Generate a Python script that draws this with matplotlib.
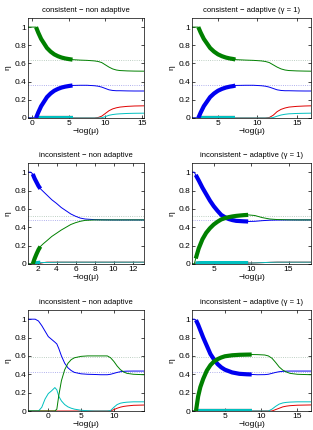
import numpy as np
import matplotlib
matplotlib.use('Agg')
import matplotlib.pyplot as plt
from matplotlib.ticker import FuncFormatter

plt.rcParams['font.family'] = ['Liberation Sans', 'DejaVu Sans']
plt.rcParams['font.size'] = 5.5

# consistent - non adaptive
x1 = [-0.6, 0.0, 0.5, 0.8, 1.2, 1.6, 2.0, 2.5, 3.0, 3.5, 4.0, 4.5, 5.0, 5.5,
      6.5, 7.5, 8.5, 9.0, 9.5, 10.0, 10.5, 11.0, 11.5, 12.0, 13.0, 14.0, 15.3]
g1 = [1.0, 1.0, 1.0, 0.94, 0.87, 0.82, 0.77, 0.73, 0.70, 0.68, 0.665, 0.655, 0.648, 0.642,
      0.637, 0.634, 0.628, 0.622, 0.61, 0.585, 0.56, 0.54, 0.528, 0.522, 0.518, 0.516, 0.515]
b1 = [0, 0, 0, 0.06, 0.13, 0.18, 0.23, 0.27, 0.30, 0.32, 0.335, 0.345, 0.352, 0.358,
      0.36, 0.36, 0.355, 0.35, 0.34, 0.325, 0.31, 0.303, 0.30, 0.30, 0.298, 0.297, 0.297]
r1 = [0, 0, 0, 0, 0, 0, 0, 0, 0, 0, 0, 0, 0, 0,
      0, 0, 0, 0.005, 0.02, 0.05, 0.08, 0.10, 0.112, 0.12, 0.128, 0.132, 0.134]
c1 = [0, 0, 0, 0, 0, 0, 0, 0, 0, 0, 0, 0, 0, 0,
      0, 0, 0, 0, 0.003, 0.015, 0.03, 0.038, 0.043, 0.046, 0.05, 0.052, 0.053]

# consistent - adaptive
x2 = [1.7, 2.2, 2.5, 2.8, 3.2, 3.6, 4.0, 4.5, 5.0, 5.5, 6.0, 6.5, 7.0, 7.2,
      8.5, 9.5, 10.5, 11.0, 11.5, 12.0, 12.5, 13.0, 13.5, 14.0, 15.0, 16.0, 16.8]
g2 = [1.0, 1.0, 1.0, 0.94, 0.87, 0.82, 0.77, 0.73, 0.70, 0.68, 0.665, 0.655, 0.648, 0.642,
      0.637, 0.634, 0.628, 0.622, 0.61, 0.585, 0.56, 0.54, 0.528, 0.522, 0.518, 0.516, 0.515]
b2 = [0, 0, 0, 0.06, 0.13, 0.18, 0.23, 0.27, 0.30, 0.32, 0.335, 0.345, 0.352, 0.358,
      0.36, 0.36, 0.355, 0.35, 0.34, 0.325, 0.31, 0.303, 0.30, 0.30, 0.298, 0.297, 0.297]
r2 = [0, 0, 0, 0, 0, 0, 0, 0, 0, 0, 0, 0, 0, 0,
      0, 0, 0, 0, 0.005, 0.03, 0.07, 0.095, 0.11, 0.12, 0.128, 0.132, 0.134]
c2 = [0, 0, 0, 0, 0, 0, 0, 0, 0, 0, 0, 0, 0, 0,
      0, 0, 0, 0, 0, 0.005, 0.02, 0.033, 0.041, 0.046, 0.05, 0.052, 0.053]

# inconsistent - non adaptive (middle)
x3 = [1.0, 1.3, 1.5, 1.7, 1.9, 2.1, 2.3, 2.6, 3.0, 3.5, 4.0, 4.5, 5.0, 5.5,
      6.0, 6.5, 7.0, 8.0, 9.0, 10.0, 11.0, 12.0, 13.2]
b3 = [1.0, 1.0, 0.98, 0.93, 0.89, 0.85, 0.82, 0.79, 0.75, 0.70, 0.66, 0.615, 0.58, 0.545,
      0.52, 0.50, 0.49, 0.483, 0.481, 0.48, 0.48, 0.48, 0.48]
g3 = [0, 0, 0, 0.06, 0.11, 0.155, 0.19, 0.22, 0.255, 0.30, 0.335, 0.37, 0.40, 0.43,
      0.45, 0.465, 0.475, 0.48, 0.48, 0.48, 0.48, 0.48, 0.48]
r3 = [0, 0, 0, 0, 0, 0.003, 0.008, 0.015, 0.02, 0.02, 0.02, 0.02, 0.02, 0.02,
      0.02, 0.02, 0.02, 0.02, 0.02, 0.02, 0.02, 0.02, 0.02]
c3 = [0, 0, 0.003, 0.006, 0.009, 0.012, 0.014, 0.016, 0.017, 0.018, 0.019, 0.02, 0.02, 0.02,
      0.02, 0.02, 0.02, 0.02, 0.02, 0.02, 0.02, 0.02, 0.02]

# inconsistent - adaptive (middle)
x4 = [2.1, 2.4, 2.6, 3.0, 3.5, 4.0, 4.5, 5.0, 5.5, 6.0, 6.5, 7.0, 7.5, 8.0,
      9.0, 9.6, 10.5, 11.5, 12.5, 13.5, 15.0, 16.5, 18.0]
b4 = [1.0, 1.0, 0.97, 0.91, 0.83, 0.76, 0.69, 0.63, 0.58, 0.535, 0.51, 0.49, 0.478, 0.47,
      0.465, 0.463, 0.465, 0.472, 0.477, 0.479, 0.48, 0.48, 0.48]
g4 = [0, 0, 0.06, 0.17, 0.27, 0.34, 0.39, 0.43, 0.46, 0.485, 0.50, 0.51, 0.518, 0.524,
      0.532, 0.535, 0.528, 0.505, 0.49, 0.484, 0.481, 0.48, 0.48]
r4 = [0, 0, 0, 0.005, 0.008, 0.01, 0.01, 0.01, 0.01, 0.01, 0.01, 0.01, 0.01, 0.01,
      0.01, 0.01, 0.012, 0.015, 0.018, 0.02, 0.02, 0.02, 0.02]
c4 = [0, 0, 0.005, 0.008, 0.01, 0.01, 0.01, 0.01, 0.01, 0.01, 0.01, 0.01, 0.01, 0.01,
      0.01, 0.01, 0.012, 0.015, 0.018, 0.02, 0.02, 0.02, 0.02]

# inconsistent - non adaptive (bottom)
x5 = [-3.1, -2.5, -2.0, -1.5, -1.0, -0.5, 0.0, 0.5, 1.0, 1.3, 1.6, 2.0, 2.5, 3.0, 3.5,
      4.0, 5.0, 6.0, 7.0, 8.0, 9.0, 9.5, 10.0, 10.5, 11.0, 11.5, 12.0, 13.0, 14.6]
b5 = [1.0, 1.0, 1.0, 0.98, 0.93, 0.87, 0.81, 0.78, 0.75, 0.73, 0.68, 0.60, 0.52, 0.47, 0.44,
      0.42, 0.405, 0.40, 0.398, 0.395, 0.395, 0.40, 0.41, 0.42, 0.428, 0.432, 0.434, 0.435, 0.435]
g5 = [0, 0, 0, 0, 0, 0, 0, 0, 0, 0.02, 0.17, 0.33, 0.45, 0.52, 0.56,
      0.58, 0.595, 0.60, 0.60, 0.60, 0.60, 0.58, 0.54, 0.49, 0.45, 0.425, 0.41, 0.40, 0.395]
c5 = [0, 0, 0, 0, 0.04, 0.13, 0.19, 0.22, 0.255, 0.23, 0.16, 0.11, 0.07, 0.045, 0.03,
      0.02, 0.008, 0.003, 0, 0, 0, 0.005, 0.04, 0.07, 0.085, 0.092, 0.096, 0.10, 0.10]
r5 = [0, 0, 0, 0, 0, 0, 0, 0, 0, 0, 0, 0, 0, 0, 0,
      0, 0, 0, 0, 0, 0, 0, 0.015, 0.03, 0.042, 0.05, 0.055, 0.062, 0.065]

# inconsistent - adaptive (bottom)
x6 = [0.45, 0.8, 1.0, 1.3, 1.6, 2.0, 2.5, 3.0, 3.5, 4.0, 4.5, 5.0, 6.0, 7.0,
      8.0, 8.7, 9.5, 10.5, 11.0, 11.5, 12.0, 12.5, 13.0, 13.5, 14.0, 15.0, 16.9]
b6 = [1.0, 1.0, 0.99, 0.94, 0.88, 0.80, 0.71, 0.62, 0.56, 0.51, 0.475, 0.45, 0.42, 0.405,
      0.40, 0.398, 0.395, 0.396, 0.40, 0.41, 0.42, 0.428, 0.432, 0.434, 0.435, 0.435, 0.435]
g6 = [0, 0, 0, 0.16, 0.26, 0.35, 0.44, 0.50, 0.54, 0.565, 0.583, 0.596, 0.607, 0.612,
      0.614, 0.615, 0.614, 0.61, 0.60, 0.575, 0.53, 0.48, 0.445, 0.425, 0.41, 0.40, 0.395]
c6 = [0, 0, 0, 0, 0, 0, 0, 0, 0, 0, 0, 0, 0, 0,
      0, 0, 0, 0, 0, 0.02, 0.05, 0.075, 0.088, 0.094, 0.097, 0.10, 0.10]
r6 = [0, 0, 0, 0, 0, 0, 0, 0, 0, 0, 0, 0, 0, 0,
      0, 0, 0, 0, 0, 0, 0.015, 0.03, 0.045, 0.053, 0.058, 0.063, 0.066]

titles = ['consistent \u2212 non adaptive', 'consistent \u2212 adaptive (\u03b3 = 1)',
          'inconsistent \u2212 non adaptive', 'inconsistent \u2212 adaptive (\u03b3 = 1)',
          'inconsistent \u2212 non adaptive', 'inconsistent \u2212 adaptive (\u03b3 = 1)']
thick = [(0.5, 5.5), (2.5, 7.2), (1.5, 2.3), (2.6, 9.6), None, (1.0, 8.7)]
dotted = [(0.64, 0.36), (0.64, 0.36), (0.52, 0.48), (0.52, 0.48), (0.59, 0.42), (0.59, 0.42)]
xticks = [[0, 5, 10, 15], [5, 10, 15], [2, 4, 6, 8, 10, 12], [5, 10, 15], [0, 5, 10], [5, 10, 15]]

panels = [(x1, b1, g1, r1, c1), (x2, b2, g2, r2, c2), (x3, b3, g3, r3, c3),
          (x4, b4, g4, r4, c4), (x5, b5, g5, r5, c5), (x6, b6, g6, r6, c6)]

colors = {'b': '#0000f0', 'g': '#008000', 'r': '#e00000', 'c': '#00c0c0'}

W, H = 313, 430
col_left = [28, 192]
col_width = [116, 119]
row_top = [18, 163, 310]
row_h = [100, 101, 101]

fig = plt.figure(figsize=(W / 100, H / 100), dpi=100)
fmt = FuncFormatter(lambda v, p: ('%g' % round(v, 2)))

for i, (x, b, g, r, c) in enumerate(panels):
    row, col = i // 2, i % 2
    ax = fig.add_axes([col_left[col] / W, 1 - (row_top[row] + row_h[row]) / H,
                       col_width[col] / W, row_h[row] / H])
    x = np.array(x)
    up, lo = dotted[i]
    ax.axhline(up, color='#a8c0b0', lw=0.6, ls=':', zorder=1)
    ax.axhline(lo, color='#9898e8', lw=0.6, ls=':', zorder=1)
    # red under cyan, so the cyan band shows along zero
    for key, y in [('r', r), ('c', c), ('b', b), ('g', g)]:
        y = np.array(y)
        ax.plot(x, y, color=colors[key], lw=0.7, zorder=2)
        if thick[i] is not None:
            m = (x >= thick[i][0]) & (x <= thick[i][1])
            ax.plot(x[m], y[m], color=colors[key], lw=3.0, zorder=3,
                    solid_capstyle='butt')
    ax.set_xlim(x[0], x[-1])
    ax.set_ylim(0, 1.1)
    ax.set_yticks([0, 0.2, 0.4, 0.6, 0.8, 1])
    ax.yaxis.set_major_formatter(fmt)
    ax.set_xticks(xticks[i])
    ax.tick_params(direction='in', length=2, width=0.5, top=True, right=True,
                   pad=1.5, labelsize=6)
    for s in ax.spines.values():
        s.set_linewidth(0.5)
    ax.set_title(titles[i], fontsize=5.5, pad=4)
    ax.set_xlabel('\u2212log(\u03bc)', labelpad=0.5, fontsize=6)
    ax.set_ylabel('\u03b7', labelpad=2, fontsize=6)

fig.savefig('out.png', dpi=100)
